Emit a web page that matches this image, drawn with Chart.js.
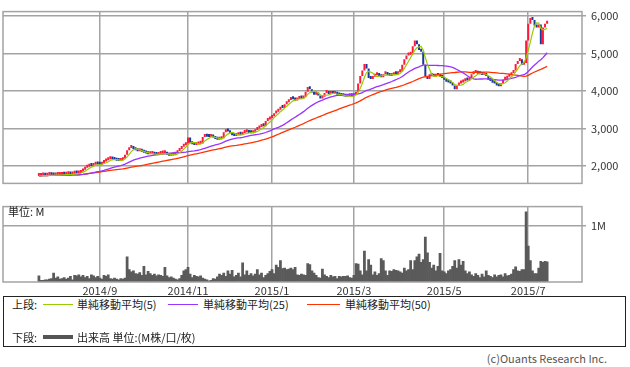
<!DOCTYPE html>
<html lang="ja">
<head>
<meta charset="utf-8">
<script src="https://cdn.jsdelivr.net/npm/chart.js@4"></script>
<style>
  html, body { margin: 0; padding: 0; background: #fff; }
  body { width: 630px; height: 367px; position: relative; overflow: hidden;
         font-family: "Noto Sans CJK JP", "Noto Sans", sans-serif; font-size: 11px; color: #222; }
  canvas { position: absolute; left: 0; }
  #chart-price { top: 0; }
  #chart-volume { top: 195px; }
  .txt { position: absolute; white-space: nowrap; line-height: 13px; }
  .swatch { position: absolute; height: 1px; }
  #legend-box { position: absolute; left: 3px; top: 296px; width: 621px; height: 49px; border: 1px solid #222; }
</style>
</head>
<body>
<canvas id="chart-price" width="630" height="195"></canvas>
<canvas id="chart-volume" width="630" height="100"></canvas>
<div class="txt" style="left:8px;top:205px;">単位: M</div>

<div id="legend-box"></div>
<div class="txt" style="left:12px;top:298px;">上段:</div>
<div class="swatch" style="left:43px;top:304px;width:30px;background:#99cc00;"></div>
<div class="txt" style="left:77px;top:298px;">単純移動平均(5)</div>
<div class="swatch" style="left:168px;top:304px;width:30px;background:#9933ff;"></div>
<div class="txt" style="left:203px;top:298px;">単純移動平均(25)</div>
<div class="swatch" style="left:307px;top:304px;width:33px;background:#ff3300;"></div>
<div class="txt" style="left:345px;top:298px;">単純移動平均(50)</div>
<div class="txt" style="left:12px;top:331px;">下段:</div>
<div class="swatch" style="left:43px;top:335px;width:30px;height:4px;background:#555;"></div>
<div class="txt" style="left:77px;top:331px;">出来高 単位:(M株/口/枚)</div>
<div class="txt" style="right:23px;top:352px;color:#555;">(c)Ouants Research Inc.</div>

<script>
// daily closes, 2014/7 late .. 2015/7 mid (trading days)
const closes = [
  1730,1745,1750,1740,1755,1760,1750,1745,1755,1760,
  1760,1770,1765,1775,1780,1770,1790,1800,1795,1810,
  1850,1900,1950,1980,2010,2000,2030,2050,2040,2030,
  2080,2120,2150,2180,2200,2170,2160,2140,2130,2150,
  2200,2300,2420,2480,2510,2450,2420,2390,2400,2380,
  2350,2330,2310,2320,2340,2300,2290,2320,2330,2340,
  2350,2300,2270,2280,2300,2340,2400,2450,2510,2550,
  2600,2760,2620,2580,2560,2570,2590,2600,2770,2790,
  2780,2770,2790,2760,2720,2700,2710,2740,2900,2980,
  2920,2870,2820,2800,2820,2840,2830,2880,2900,2910,
  2880,2870,2900,2960,3000,3040,3080,3060,3200,3240,
  3280,3330,3400,3450,3500,3570,3550,3650,3700,3760,
  3800,3780,3750,3790,3820,3800,3850,3980,4110,4050,
  3960,3900,3950,3880,3800,3850,3950,3970,3920,3930,
  3920,3940,3900,3880,3870,3860,3850,3860,3870,3860,
  3900,3980,4200,4400,4550,4720,4600,4350,4320,4380,
  4420,4460,4400,4370,4450,4480,4430,4400,4420,4460,
  4450,4500,4520,4700,4850,4950,4970,5000,5200,5350,
  5250,5100,5050,4700,4400,4320,4450,4400,4380,4420,
  4400,4380,4350,4300,4250,4230,4200,4150,4050,4150,
  4200,4230,4260,4300,4280,4350,4450,4480,4500,4460,
  4450,4430,4470,4400,4300,4270,4220,4200,4150,4130,
  4200,4300,4330,4380,4420,4480,4550,4720,4800,4850,
  4700,4750,5350,5800,5950,5900,5750,5700,5780,5250,
  5700,5800,5850
];

// daily volume, millions
const volumes = [
  0.11,0.03,0.03,0.04,0.04,0.05,0.06,0.16,0.07,0.09,
  0.05,0.06,0.08,0.05,0.07,0.10,0.04,0.12,0.11,0.13,
  0.09,0.12,0.08,0.10,0.06,0.13,0.11,0.08,0.10,0.07,
  0.05,0.12,0.10,0.13,0.06,0.05,0.07,0.05,0.04,0.06,
  0.05,0.07,0.45,0.22,0.18,0.20,0.15,0.14,0.17,0.12,
  0.28,0.13,0.19,0.15,0.12,0.14,0.11,0.13,0.12,0.10,
  0.26,0.11,0.08,0.09,0.07,0.05,0.04,0.06,0.12,0.20,
  0.22,0.26,0.14,0.08,0.12,0.10,0.09,0.11,0.07,0.05,
  0.04,0.02,0.03,0.06,0.05,0.09,0.14,0.12,0.16,0.10,
  0.20,0.14,0.21,0.09,0.12,0.16,0.09,0.34,0.13,0.20,
  0.12,0.15,0.11,0.14,0.22,0.13,0.16,0.08,0.12,0.15,
  0.19,0.22,0.15,0.30,0.26,0.38,0.24,0.25,0.22,0.23,
  0.25,0.22,0.26,0.13,0.12,0.14,0.13,0.12,0.33,0.31,
  0.20,0.16,0.12,0.08,0.07,0.23,0.13,0.10,0.08,0.12,
  0.09,0.10,0.06,0.10,0.09,0.10,0.10,0.11,0.08,0.07,
  0.12,0.33,0.32,0.20,0.13,0.55,0.20,0.40,0.30,0.13,
  0.18,0.12,0.15,0.42,0.38,0.20,0.12,0.20,0.19,0.22,
  0.21,0.20,0.18,0.16,0.25,0.20,0.22,0.38,0.22,0.38,
  0.45,0.50,0.35,0.40,0.80,0.52,0.35,0.25,0.30,0.20,
  0.28,0.51,0.20,0.18,0.15,0.20,0.22,0.28,0.38,0.25,
  0.40,0.30,0.37,0.20,0.15,0.18,0.13,0.10,0.15,0.12,
  0.08,0.14,0.09,0.20,0.12,0.10,0.08,0.13,0.09,0.12,
  0.13,0.09,0.15,0.11,0.12,0.14,0.22,0.27,0.20,0.19,
  0.22,0.22,1.25,0.64,0.38,0.20,0.15,0.15,0.25,0.37,
  0.35,0.37,0.36
];

// month labels and the trading-day index they sit on
const monthLabels = ['2014/9', '2014/11', '2015/1', '2015/3', '2015/5', '2015/7'];
const monthDays = [29, 71, 111, 150, 193, 233];
const priceTicks = [2000, 3000, 4000, 5000, 6000];
const volumeTicks = [1];

const X_MIN = -17.1, X_MAX = 258.6;
const GRID = '#a3a3a3';
const UP = '#ff1a3c', DOWN = '#1a3a99';

Chart.defaults.font.family = '"Noto Sans CJK JP", "Noto Sans", sans-serif';
Chart.defaults.font.size = 11;
Chart.defaults.color = '#333';

function sma(arr, n) {
    return arr.map((_, i) => {
        const from = Math.max(0, i - n + 1);
        const win = arr.slice(from, i + 1);
        return { x: i, y: win.reduce((a, b) => a + b, 0) / win.length };
    });
}

const opens = closes.map((c, i) => i === 0 ? c : closes[i - 1]);
const candles = closes.map((c, i) => ({ x: i, y: [opens[i], c] }));
const candleColors = closes.map((c, i) => c >= opens[i] ? UP : DOWN);
const volumeBars = volumes.map((v, i) => ({ x: i, y: v }));

const frame = {
    id: 'frame',
    afterDraw(chart) {
        const { ctx, chartArea: a } = chart;
        ctx.save();
        ctx.strokeStyle = GRID;
        ctx.lineWidth = 1.5;
        ctx.strokeRect(a.left, a.top, a.right - a.left, a.bottom - a.top);
        ctx.restore();
    }
};

const monthAxis = showLabels => ({
    type: 'linear', min: X_MIN, max: X_MAX, offset: false,
    afterBuildTicks: axis => { axis.ticks = monthDays.map(v => ({ value: v })); },
    ticks: { display: showLabels, padding: 2, maxRotation: 0, autoSkip: false,
             callback: (v, i) => monthLabels[i] },
    grid: { color: GRID, lineWidth: 1.5, drawTicks: false, offset: false },
    border: { display: false },
    afterFit: s => { s.height = showLabels ? 13 : 0; },
});

new Chart(document.getElementById('chart-price'), {
    type: 'bar',
    data: {
        datasets: [
            { type: 'line', data: sma(closes, 5), borderColor: '#99cc00', borderWidth: 1.2, pointRadius: 0, order: 0 },
            { type: 'line', data: sma(closes, 25), borderColor: '#9933ff', borderWidth: 1.3, pointRadius: 0, order: 1 },
            { type: 'line', data: sma(closes, 50), borderColor: '#ff3300', borderWidth: 1.3, pointRadius: 0, order: 2 },
            { type: 'bar', data: candles, backgroundColor: candleColors, barPercentage: 0.95,
              categoryPercentage: 1, minBarLength: 3, order: 3 },
        ]
    },
    options: {
        responsive: false, animation: false, events: [],
        layout: { padding: { left: 3, top: 6, bottom: 2, right: 0 } },
        plugins: { legend: { display: false }, tooltip: { enabled: false } },
        scales: {
            x: monthAxis(false),
            y: {
                position: 'right', min: 1533.7, max: 6122.7,
                afterBuildTicks: axis => { axis.ticks = priceTicks.map(v => ({ value: v })); },
                ticks: { padding: 5, callback: v => v.toLocaleString('en-US') },
                grid: { color: GRID, lineWidth: 1.5, tickLength: 4 },
                border: { display: false },
                afterFit: s => { s.width = 48; },
            }
        }
    },
    plugins: [frame]
});

new Chart(document.getElementById('chart-volume'), {
    type: 'bar',
    data: {
        datasets: [
            { data: volumeBars, backgroundColor: '#5a5a5a', barPercentage: 1, categoryPercentage: 1 }
        ]
    },
    options: {
        responsive: false, animation: false, events: [],
        layout: { padding: { left: 3, top: 9, bottom: 0, right: 0 } },
        plugins: { legend: { display: false }, tooltip: { enabled: false } },
        scales: {
            x: monthAxis(true),
            y: {
                position: 'right', min: 0, max: 1.345,
                afterBuildTicks: axis => { axis.ticks = volumeTicks.map(v => ({ value: v })); },
                ticks: { padding: 5, callback: v => v + 'M' },
                grid: { color: GRID, lineWidth: 1.5, tickLength: 4 },
                border: { display: false },
                afterFit: s => { s.width = 48; },
            }
        }
    },
    plugins: [frame]
});
</script>
</body>
</html>
